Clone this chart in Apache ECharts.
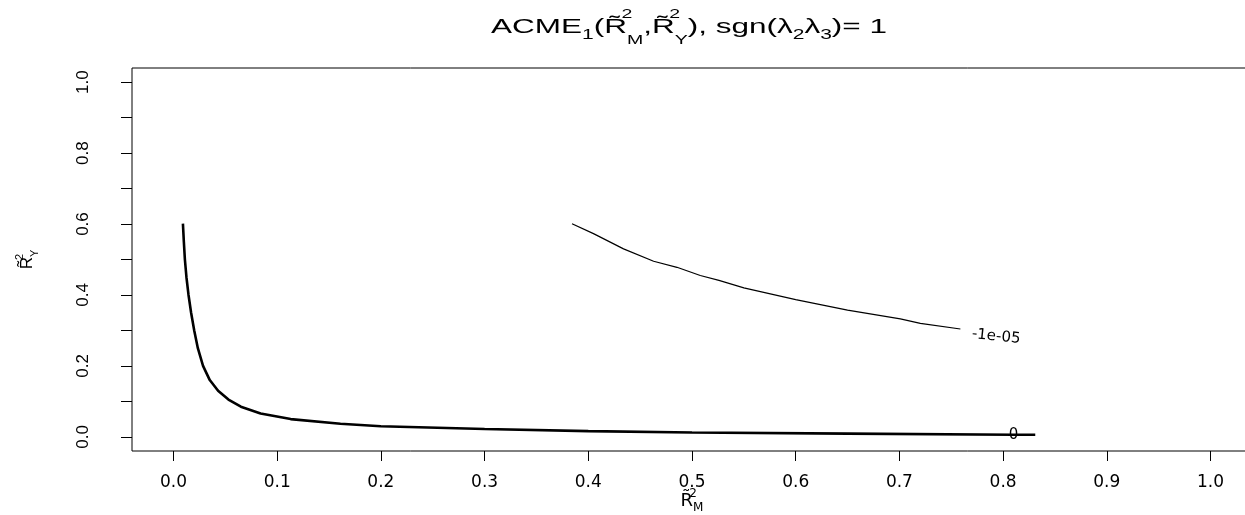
<!DOCTYPE html>
<html>
<head>
<meta charset="utf-8">
<title>ACME contours</title>
<script src="https://cdn.jsdelivr.net/npm/echarts@6/dist/echarts.min.js"></script>
<style>
	html, body { margin: 0; padding: 0; background: #fff; }
	#acme-contour { width: 1245px; height: 515px; }
</style>
</head>
<body>
<div id="acme-contour"></div>
<script>
	// tick positions (R style: ticks every 0.1, y labels every 0.2)
	const xTicks = [0, 0.1, 0.2, 0.3, 0.4, 0.5, 0.6, 0.7, 0.8, 0.9, 1.0];
	const yTicks = [0, 0.1, 0.2, 0.3, 0.4, 0.5, 0.6, 0.7, 0.8, 0.9, 1.0];
	const yLabelTicks = [0, 0.2, 0.4, 0.6, 0.8, 1.0];

	// contour level 0 (thick line)
	const zeroX = [0.0091, 0.0100, 0.0110, 0.0125, 0.0145, 0.0170, 0.0200, 0.0235, 0.0285, 0.0350, 0.0430, 0.0530, 0.0650, 0.0840, 0.1130, 0.1610, 0.2, 0.3, 0.4, 0.5, 0.65, 0.81, 0.831];
	const zeroY = [0.601, 0.55, 0.50, 0.45, 0.40, 0.35, 0.30, 0.25, 0.20, 0.16, 0.13, 0.105, 0.085, 0.066, 0.050, 0.037, 0.030, 0.022, 0.016, 0.012, 0.009, 0.006, 0.006];

	// contour level -1e-05 (thin line)
	const smallX = [0.3843, 0.405, 0.434, 0.463, 0.4855, 0.508, 0.526, 0.55, 0.6, 0.65, 0.7009, 0.7202, 0.7588];
	const smallY = [0.601, 0.573, 0.53, 0.495, 0.478, 0.455, 0.441, 0.42, 0.387, 0.357, 0.3325, 0.32, 0.304];

	const levelNames = ['0', '-1e-05'];
	const zeroLabelX = 0.81;

	let chart = echarts.init(document.getElementById('acme-contour'));

	function pairs(xs, ys) {
		let arr = [];
		xs.map((x, i) => {
			arr.push([x, ys[i]]);
		});
		return arr;
	}

	const zeroData = pairs(zeroX, zeroY).map((p) => {
		if(p[0] === zeroLabelX) {
			return {
				value: p,
				label: {
					show: true,
					position: 'inside',
					formatter: levelNames[0],
					fontSize: 15,
					fontFamily: 'DejaVu Sans',
					color: '#000'
				}
			};
		}
		return p;
	});

	const smallData = pairs(smallX, smallY).map((p, i) => {
		if(i === smallX.length - 1) {
			return {
				value: p,
				label: {
					show: true,
					position: 'right',
					distance: 12,
					offset: [0, 5],
					rotate: -6,
					formatter: levelNames[1],
					fontSize: 15,
					fontFamily: 'DejaVu Sans',
					color: '#000'
				}
			};
		}
		return p;
	});

	const option = {
		animation: false,
		backgroundColor: '#fff',
		// title drawn as a horizontally stretched text, like the reference
		graphic: [{
			type: 'text',
			x: 689,
			y: 8,
			scaleX: 1.5,
			style: {
				text: '{n|ACME}{s|1}{n|(R\u0303}{sup|2}{sub|M}{n|,R\u0303}{sup|2}{sub|Y}{n|), sgn(\u03bb}{s|2}{n|\u03bb}{s|3}{n|)= 1}',
				align: 'center',
				verticalAlign: 'top',
				fill: '#000',
				rich: {
					n: { fontSize: 21, lineHeight: 39, fontFamily: 'Liberation Sans', fill: '#000' },
					s: { fontSize: 14, verticalAlign: 'bottom', padding: [0, 0, 5, 0], fontFamily: 'Liberation Sans', fill: '#000' },
					sup: { fontSize: 13, verticalAlign: 'top', width: 0, fontFamily: 'Liberation Sans', fill: '#000' },
					sub: { fontSize: 13, verticalAlign: 'bottom', fontFamily: 'Liberation Sans', fill: '#000' }
				}
			}
		}],
		grid: {
			left: 132,
			top: 68,
			width: 1120,
			height: 383,
			outerBoundsMode: 'none',
			show: true,
			borderColor: '#000',
			borderWidth: 1
		},
		xAxis: {
			type: 'value',
			min: -0.04,
			max: 1.04,
			axisLine: { show: false, onZero: false },
			splitLine: { show: false },
			axisTick: {
				show: true,
				customValues: xTicks,
				length: 10,
				lineStyle: { color: '#000', width: 1 }
			},
			axisLabel: {
				customValues: xTicks,
				formatter: (v) => v.toFixed(1),
				margin: 23,
				fontSize: 17,
				fontFamily: 'DejaVu Sans',
				color: '#000'
			},
			name: '{b|R\u0303}{sup|2}{sub|M}',
			nameLocation: 'middle',
			nameMoveOverlap: false,
			nameGap: 37,
			nameTextStyle: {
				rich: {
					b: { fontSize: 18, lineHeight: 26, fontFamily: 'DejaVu Sans', color: '#000' },
					sup: { fontSize: 12, verticalAlign: 'top', width: 0, fontFamily: 'DejaVu Sans', color: '#000' },
					sub: { fontSize: 12, verticalAlign: 'bottom', fontFamily: 'DejaVu Sans', color: '#000' }
				}
			}
		},
		yAxis: {
			type: 'value',
			min: -0.04,
			max: 1.04,
			axisLine: { show: false, onZero: false },
			splitLine: { show: false },
			axisTick: {
				show: true,
				customValues: yTicks,
				length: 11,
				lineStyle: { color: '#000', width: 1 }
			},
			axisLabel: {
				customValues: yLabelTicks,
				formatter: (v) => v.toFixed(1),
				rotate: 90,
				margin: 40,
				fontSize: 17,
				fontFamily: 'Liberation Sans Narrow, Liberation Sans, sans-serif',
				color: '#000'
			},
			name: '{b|R\u0303}{sup|2}{sub|Y}',
			nameLocation: 'middle',
			nameRotate: 90,
			nameMoveOverlap: false,
			nameGap: 92,
			nameTextStyle: {
				rich: {
					b: { fontSize: 17, lineHeight: 26, fontFamily: 'Liberation Sans Narrow, Liberation Sans, sans-serif', color: '#000' },
					sup: { fontSize: 11, verticalAlign: 'top', width: 0, color: '#000' },
					sub: { fontSize: 11, verticalAlign: 'bottom', color: '#000' }
				}
			}
		},
		series: [{
				name: levelNames[0],
				type: 'line',
				data: zeroData,
				showSymbol: true,
				showAllSymbol: true,
				symbol: 'circle',
				symbolSize: 0,
				lineStyle: { color: '#000', width: 2.6 },
				itemStyle: { color: '#000' }
			},
			{
				name: levelNames[1],
				type: 'line',
				data: smallData,
				showSymbol: true,
				showAllSymbol: true,
				symbol: 'circle',
				symbolSize: 0,
				lineStyle: { color: '#000', width: 1.2 },
				itemStyle: { color: '#000' }
			}
		]
	};
	chart.setOption(option);
</script>
</body>
</html>
